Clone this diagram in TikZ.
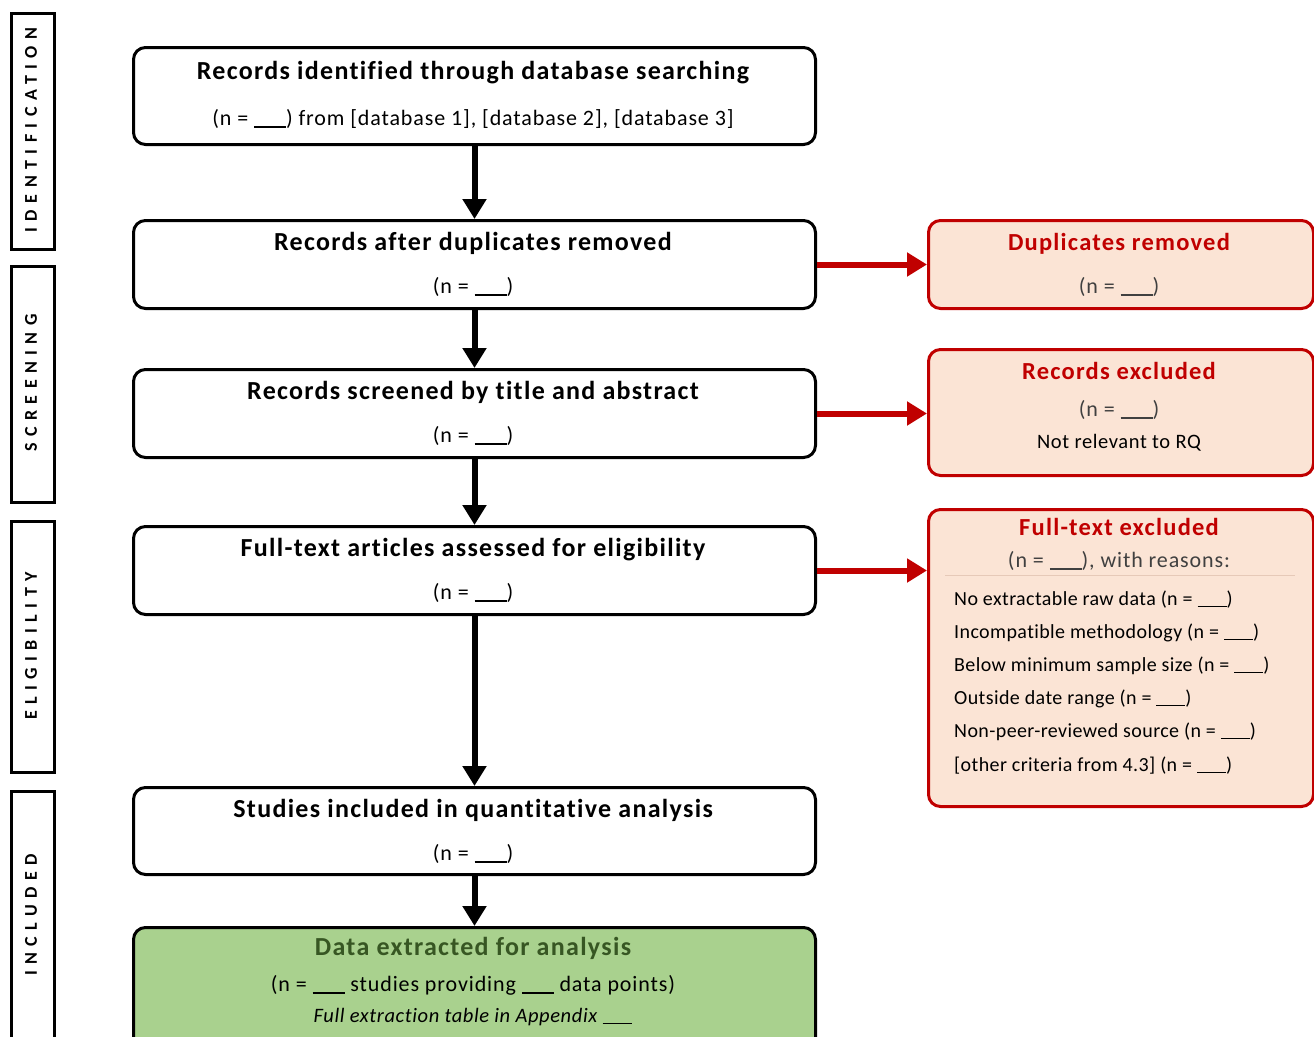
\documentclass[tikz,border=0pt]{standalone}
\usepackage{fontspec}
\setmainfont[Ligatures=NoCommon]{Carlito}
\newfontfamily\sidefont[LetterSpace=36]{Carlito}
\newfontfamily\ttlfont[LetterSpace=5,Ligatures=NoCommon]{Carlito}
\newfontfamily\subfont[LetterSpace=4,Ligatures=NoCommon]{Carlito}
\newfontfamily\smallfont[LetterSpace=2,Ligatures=NoCommon]{Carlito}
\newfontfamily\notefont[LetterSpace=3,Ligatures=NoCommon]{Carlito}
\newcommand{\blank}{\rule[-0.12em]{1.45em}{0.06em}}
\usetikzlibrary{arrows.meta}
\definecolor{redc}{HTML}{C00000}
\definecolor{peach}{HTML}{FBE4D5}
\definecolor{greenf}{HTML}{A9D18E}
\definecolor{greent}{HTML}{375623}
\definecolor{graytxt}{HTML}{404040}
\definecolor{sepc}{HTML}{E6C9B8}
\tikzset{
  mainbox/.style={draw=black, line width=3pt, rounded corners=12pt, fill=white, anchor=north west, inner sep=0pt},
  redbox/.style={draw=redc, line width=3pt, rounded corners=12pt, fill=peach, anchor=north west, inner sep=0pt},
  greenbox/.style={draw=black, line width=3pt, rounded corners=12pt, fill=greenf, anchor=north west, inner sep=0pt},
  sidebox/.style={draw=black, line width=2.5pt, anchor=north west, inner sep=0pt},
  sidelabel/.style={rotate=90, font=\sidefont\bfseries\fontsize{18}{21}\selectfont, inner sep=0pt},
  ttl/.style={anchor=base, inner sep=0pt, font=\ttlfont\bfseries\fontsize{26}{30}\selectfont},
  rttl/.style={anchor=base, inner sep=0pt, text=redc, font=\ttlfont\bfseries\fontsize{24.5}{29}\selectfont},
  sub/.style={anchor=base, inner sep=0pt, font=\subfont\fontsize{22}{26}\selectfont},
  small/.style={anchor=base west, inner sep=0pt, font=\smallfont\fontsize{20}{24}\selectfont},
  note/.style={anchor=base, inner sep=0pt, font=\notefont\fontsize{20.5}{24}\selectfont},
  blackarrow/.style={draw=black, line width=6pt, -{Triangle[width=23pt,length=20pt]}},
  redarrow/.style={draw=redc, line width=6pt, -{Triangle[width=23pt,length=20pt]}},
}
\begin{document}
\begin{tikzpicture}[x=1pt,y=-1pt]
\useasboundingbox (0,0) rectangle (1314,1036);
\clip (0,0) rectangle (1314,1036);
% side labels
\node[sidebox, minimum width=43pt, minimum height=236pt] (s1) at (10,12) {};
\node[sidelabel] (s1t) at (31,130) {IDENTIFICATION};
\node[sidebox, minimum width=43pt, minimum height=236pt] (s2) at (10,265) {};
\node[sidelabel] (s2t) at (31,383) {SCREENING};
\node[sidebox, minimum width=43pt, minimum height=251pt] (s3) at (10,520) {};
\node[sidelabel] (s3t) at (31,646) {ELIGIBILITY};
\node[sidebox, minimum width=43pt, minimum height=270pt] (s4) at (10,790) {};
\node[sidelabel] (s4t) at (31,915) {INCLUDED};
% main boxes
\node[mainbox, minimum width=682pt, minimum height=97pt] (b1) at (132,46) {};
\node[mainbox, minimum width=682pt, minimum height=88pt] (b2) at (132,219) {};
\node[mainbox, minimum width=682pt, minimum height=88pt] (b3) at (132,368) {};
\node[mainbox, minimum width=682pt, minimum height=88pt] (b4) at (132,525) {};
\node[mainbox, minimum width=682pt, minimum height=87pt] (b5) at (132,786) {};
\node[greenbox, minimum width=682pt, minimum height=130pt] (b6) at (132,926) {};
% red boxes
\node[redbox, minimum width=385pt, minimum height=88pt] (r1) at (927,219) {};
\node[redbox, minimum width=385pt, minimum height=126pt] (r2) at (927,348) {};
\node[redbox, minimum width=385pt, minimum height=297pt] (r3) at (927,508) {};
% arrows
\draw[blackarrow] (b1.south) -- (b2.north);
\draw[blackarrow] (b2.south) -- (b3.north);
\draw[blackarrow] (b3.south) -- (b4.north);
\draw[blackarrow] (b4.south) -- (b5.north);
\draw[blackarrow] (b5.south) -- (b6.north);
\draw[redarrow] (b2.east) -- (r1.west);
\draw[redarrow] (b3.east) -- (b3.east -| r2.west);
\draw[redarrow] (b4.east) -- (b4.east -| r3.west);
% texts main
\node[ttl] (t1a) at (473,79) {Records identified through database searching};
\node[sub] (t1b) at (473,125) {(n = \blank) from [database 1], [database 2], [database 3]};
\node[ttl] (t2a) at (473,250) {Records after duplicates removed};
\node[sub] (t2b) at (473,293) {(n = \blank)};
\node[ttl] (t3a) at (473,399) {Records screened by title and abstract};
\node[sub] (t3b) at (473,442) {(n = \blank)};
\node[ttl] (t4a) at (473,556) {Full-text articles assessed for eligibility};
\node[sub] (t4b) at (473,599) {(n = \blank)};
\node[ttl] (t5a) at (473,817) {Studies included in quantitative analysis};
\node[sub] (t5b) at (473,860) {(n = \blank)};
\node[ttl, text=greent] (t6a) at (473,955) {Data extracted for analysis};
\node[sub] (t6b) at (473,991) {(n = \blank\ studies providing \blank\ data points)};
\node[note, font=\notefont\itshape\fontsize{20.5}{24}\selectfont] (t6c) at (473,1022) {Full extraction table in Appendix \blank};
% texts red
\node[rttl] (u1a) at (1119,250) {Duplicates removed};
\node[sub, text=graytxt] (u1b) at (1119,293) {(n = \blank)};
\node[rttl] (u2a) at (1119,379) {Records excluded};
\node[sub, text=graytxt] (u2b) at (1119,416) {(n = \blank)};
\node[note] (u2c) at (1119,448) {Not relevant to RQ};
\node[rttl] (u3a) at (1119,535) {Full-text excluded};
\node[sub, text=graytxt] (u3b) at (1119,567) {(n = \blank), with reasons:};
\coordinate (sepL) at (945,575);
\coordinate (sepR) at (1295,575);
\draw[sepc, line width=1pt] (sepL) -- (sepR);
\node[small] (l1) at (954,605) {No extractable raw data (n = \blank)};
\node[small] (l2) at (954,638) {Incompatible methodology (n = \blank)};
\node[small] (l3) at (954,671) {Below minimum sample size (n = \blank)};
\node[small] (l4) at (954,704) {Outside date range (n = \blank)};
\node[small] (l5) at (954,737) {Non-peer-reviewed source (n = \blank)};
\node[small] (l6) at (954,771) {[other criteria from 4.3] (n = \blank)};
\end{tikzpicture}
\end{document}
